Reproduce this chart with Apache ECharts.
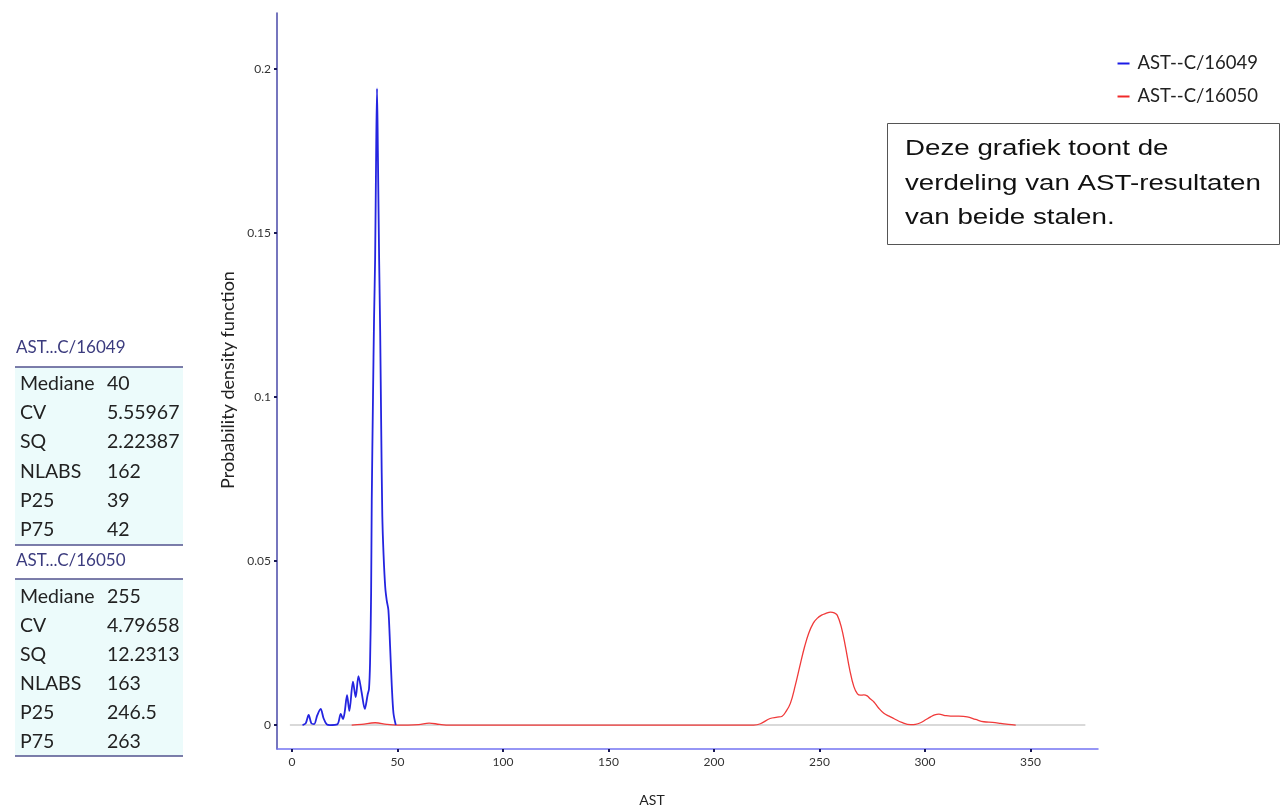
<!DOCTYPE html>
<html>
<head>
<meta charset="utf-8">
<title>AST verdeling</title>
<script src="https://cdn.jsdelivr.net/npm/echarts@6/dist/echarts.min.js"></script>
<style>
  html, body { margin: 0; padding: 0; background: #ffffff; }
  #chart { width: 1281px; height: 808px; }
</style>
</head>
<body>
<div id="chart"></div>
<script>
// Density curves of AST results for both samples: [AST value, density]
const seriesNames = ['AST--C/16049', 'AST--C/16050'];

const densityC16049 = [
  [5.0, 0], [6.5, 0.0005], [7.9, 0.0031], [9.2, 0.0005], [10.5, 0.0003],
  [12.0, 0.003], [13.6, 0.0049], [15.0, 0.002], [16.5, 0.0002], [18.0, 0],
  [21.5, 0.0002], [23.1, 0.0034], [24.2, 0.0018], [25.0, 0.004], [26.1, 0.0091],
  [27.2, 0.0043], [28.9, 0.0132], [30.2, 0.0085], [31.5, 0.0149], [33.0, 0.010],
  [34.5, 0.0049], [35.9, 0.0094], [36.5, 0.011], [37.0, 0.019], [37.5, 0.040],
  [37.8, 0.068], [38.4, 0.100], [38.9, 0.124], [39.4, 0.142], [39.9, 0.175],
  [40.3, 0.194], [40.7, 0.175], [41.3, 0.142], [41.8, 0.120], [42.3, 0.090],
  [42.8, 0.064], [43.4, 0.052], [44.2, 0.042], [44.9, 0.038], [45.7, 0.035],
  [46.5, 0.024], [47.3, 0.012], [48.1, 0.0036], [49.2, 0]
];

const densityC16050 = [
  [28.3, 0], [33.0, 0.0002], [39.4, 0.0007], [45.0, 0.0002], [50.0, 0],
  [55.0, 0], [60.0, 0.0001], [65.0, 0.0006], [70.0, 0.0002], [75.0, 0],
  [150.0, 0], [218.8, 0], [222.0, 0.0004], [226.6, 0.002], [230.0, 0.0024],
  [232.3, 0.0027], [234.0, 0.004], [236.2, 0.0066], [238.5, 0.012], [241.0, 0.0188],
  [243.0, 0.024], [244.9, 0.028], [247.0, 0.031], [248.9, 0.0325], [251.0, 0.0335],
  [253.0, 0.034], [255.2, 0.0344], [257.0, 0.0342], [258.4, 0.0335], [260.3, 0.030],
  [262.3, 0.0239], [264.3, 0.017], [266.3, 0.0117], [268.0, 0.0095], [269.4, 0.0091],
  [271.0, 0.0092], [272.6, 0.0089], [274.0, 0.008], [275.7, 0.0071], [278.0, 0.0052],
  [280.5, 0.0036], [283.0, 0.0027], [285.2, 0.002], [289.0, 0.0008], [293.2, 0.0001],
  [295.5, 0.0002], [297.9, 0.0007], [300.3, 0.0016], [302.7, 0.0025], [304.6, 0.0031],
  [306.6, 0.0033], [309.5, 0.0029], [312.1, 0.0027], [316.0, 0.0027], [320.0, 0.0025],
  [324.0, 0.0017], [327.9, 0.001], [332.0, 0.0008], [335.9, 0.0005], [339.5, 0.0002],
  [343.0, 0]
];

// Zero reference line under the curves
const baseline = [[-1, 0], [376, 0]];

// Tick values
const xTicks = [0, 50, 100, 150, 200, 250, 300, 350];
const yTicks = [0, 0.05, 0.1, 0.15, 0.2];

// Summary statistics per sample
const statTitles = ['AST...C/16049', 'AST...C/16050'];
const statLabels = ['Mediane', 'CV', 'SQ', 'NLABS', 'P25', 'P75'];
const statValuesC16049 = ['40', '5.55967', '2.22387', '162', '39', '42'];
const statValuesC16050 = ['255', '4.79658', '12.2313', '163', '246.5', '263'];

const noteText = 'Deze grafiek toont de\nverdeling van AST-resultaten\nvan beide stalen.';

const uiFont = 'Lato, "Open Sans", sans-serif';

// One statistics block: title, rule, tinted body with label/value rows, closing rule
function statBlock(title, values, titleY, ruleY, firstRowY, rowStep, endY) {
  const els = [];
  els.push({ type: 'rect', shape: { x: 15, y: ruleY, width: 168, height: endY - ruleY },
             style: { fill: '#ecfbfb' }, silent: true });
  els.push({ type: 'text', x: 16, y: titleY, style: { text: title, fill: '#3b3b7e',
             font: '17px ' + uiFont, textVerticalAlign: 'middle' } });
  els.push({ type: 'line', shape: { x1: 15, y1: ruleY, x2: 183, y2: ruleY },
             style: { stroke: '#52528e', lineWidth: 1.5 } });
  els.push({ type: 'line', shape: { x1: 15, y1: endY, x2: 183, y2: endY },
             style: { stroke: '#52528e', lineWidth: 1.5 } });
  for (let i = 0; i < statLabels.length; i++) {
    const y = firstRowY + i * rowStep;
    els.push({ type: 'text', x: 20, y: y, style: { text: statLabels[i], fill: '#222',
               font: '19.5px ' + uiFont, textVerticalAlign: 'middle' } });
    els.push({ type: 'text', x: 107, y: y, style: { text: values[i], fill: '#222',
               font: '19.5px ' + uiFont, textVerticalAlign: 'middle' } });
  }
  return els;
}

const chart = echarts.init(document.getElementById('chart'));

const option = {
  animation: false,
  backgroundColor: '#ffffff',
  grid: { left: 277, right: 183, top: 13, bottom: 59, containLabel: false },
  legend: {
    data: seriesNames,
    orient: 'vertical',
    right: 18,
    top: 49,
    itemGap: 14,
    itemWidth: 12,
    itemHeight: 2,
    icon: 'rect',
    textStyle: { fontSize: 18.5, color: '#222', fontFamily: uiFont, padding: [0, 0, 0, 3] }
  },
  xAxis: {
    type: 'value',
    min: -7.1,
    max: 382,
    splitLine: { show: false },
    axisLine: { onZero: false, lineStyle: { color: '#7474f2', width: 1.5 } },
    axisTick: { customValues: xTicks, length: 3, lineStyle: { color: '#1a1a55', width: 2 } },
    axisLabel: { customValues: xTicks, fontSize: 12, color: '#333', margin: 7,
                 fontFamily: uiFont }
  },
  yAxis: {
    type: 'value',
    min: -0.0073,
    max: 0.217,
    splitLine: { show: false },
    axisLine: { show: true, onZero: false, lineStyle: { color: '#4848a8', width: 1.5 } },
    axisTick: { show: true, customValues: yTicks, length: 3, lineStyle: { color: '#1a1a55', width: 2 } },
    axisLabel: { customValues: yTicks, fontSize: 12, color: '#333', margin: 6,
                 fontFamily: uiFont }
  },
  series: [
    {
      name: 'baseline', type: 'line', data: baseline, symbol: 'none', silent: true,
      lineStyle: { color: '#cccccc', width: 1.5 }, z: 1
    },
    {
      name: seriesNames[1], type: 'line', data: densityC16050, symbol: 'none', smooth: 0.4,
      color: '#f02a2a', lineStyle: { color: '#f03a3a', width: 1.3 }, z: 2
    },
    {
      name: seriesNames[0], type: 'line', data: densityC16049, symbol: 'none', smooth: 0.3,
      color: '#1a1ae6', lineStyle: { color: '#2424e0', width: 1.8 }, z: 3
    }
  ],
  graphic: [
    {
      type: 'text', x: 228, y: 380, rotation: Math.PI / 2,
      style: { text: 'Probability density function', fill: '#222',
               font: '18px ' + uiFont, textAlign: 'center', textVerticalAlign: 'middle' }
    },
    {
      type: 'text', x: 652, y: 800,
      style: { text: 'AST', fill: '#222', font: '14px ' + uiFont,
               textAlign: 'center', textVerticalAlign: 'middle' }
    },
    {
      type: 'rect', shape: { x: 887.5, y: 123.5, width: 392, height: 121 },
      style: { fill: '#ffffff', stroke: '#555555', lineWidth: 1 }
    },
    {
      type: 'text', x: 905, y: 132, scaleX: 1.26,
      style: { text: noteText, fill: '#111', font: '22px "Liberation Sans", Arial, sans-serif',
               lineHeight: 34.5 }
    },
    ...statBlock(statTitles[0], statValuesC16049, 348, 367, 384, 29.1, 545),
    ...statBlock(statTitles[1], statValuesC16050, 561, 579, 597, 29.0, 756)
  ]
};

chart.setOption(option);
</script>
</body>
</html>
